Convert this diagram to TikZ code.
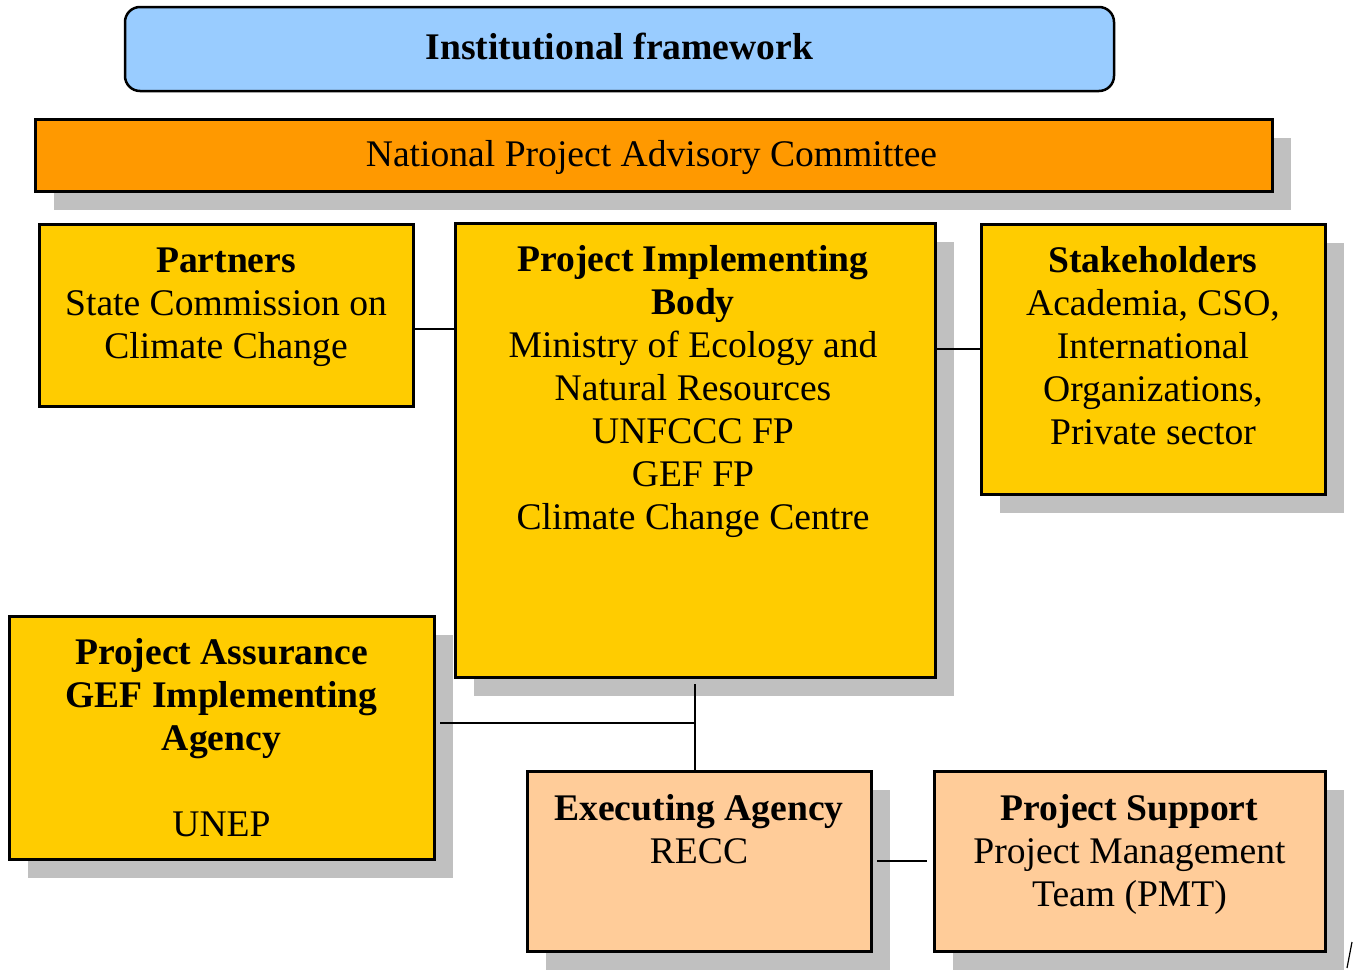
\documentclass[tikz,border=0pt]{standalone}
\usepackage{fontspec}
\setmainfont{Liberation Serif}
\usetikzlibrary{shadows,calc}
\definecolor{titleblue}{HTML}{99CCFF}
\definecolor{npacorange}{HTML}{FF9900}
\definecolor{boxyellow}{HTML}{FFCC00}
\definecolor{boxpeach}{HTML}{FFCC99}
\definecolor{shadowgray}{HTML}{C0C0C0}
\begin{document}
\begin{tikzpicture}[x=1pt,y=-1pt,
  box/.style={draw=black, line width=3pt, inner sep=0pt, outer sep=0pt, anchor=north west},
  shad/.style={drop shadow={shadow xshift=19pt, shadow yshift=-19pt, fill=shadowgray, opacity=1}},
  txt/.style={anchor=north, align=center, inner sep=0pt, font=\fontsize{37.6}{43}\selectfont},
  onetxt/.style={anchor=base, inner sep=0pt, font=\fontsize{37.6}{43}\selectfont},
  conn/.style={draw=black, line width=1.2pt},
  connthick/.style={draw=black, line width=2.4pt},
]
\useasboundingbox (0,0) rectangle (1358,970);
\clip (0,0) rectangle (1358,970);
\fill[white] (0,0) rectangle (1358,970);

% title
\node[box, rounded corners=15pt, fill=titleblue, line width=2.5pt,
      minimum width=989pt, minimum height=84pt] (title) at (125,7) {};
\node[onetxt, font=\fontsize{37.6}{43}\selectfont\bfseries] (title-t) at ([yshift=-10pt]title.center) {Institutional framework};

% national committee
\node[box, shad, fill=npacorange, minimum width=1237pt, minimum height=72pt] (npac) at (35,119) {};
\node[onetxt] (npac-t) at ([xshift=-2pt,yshift=-11pt]npac.center) {National Project Advisory Committee};

% partners
\node[box, fill=boxyellow, minimum width=374pt, minimum height=182pt] (partners) at (39,224) {};
\node[txt] (partners-t) at ([yshift=-18.5pt]partners.north)
  {\strut\textbf{Partners}\\State Commission on\\Climate Change};

% project implementing body
\node[box, shad, fill=boxyellow, minimum width=480pt, minimum height=454pt] (pib) at (455,223) {};
\node[txt] (pib-t) at ([xshift=-2pt,yshift=-18.5pt]pib.north)
  {\strut\textbf{Project Implementing}\\\textbf{Body}\\Ministry of Ecology and\\Natural Resources\\UNFCCC FP\\GEF FP\\Climate Change Centre};

% stakeholders
\node[box, shad, fill=boxyellow, minimum width=344pt, minimum height=270pt] (stake) at (981,224) {};
\node[txt] (stake-t) at ([yshift=-18.5pt]stake.north)
  {\strut\textbf{Stakeholders}\\Academia, CSO,\\International\\Organizations,\\Private sector};

% project assurance
\node[box, shad, fill=boxyellow, minimum width=425pt, minimum height=243pt] (pa) at (9,616) {};
\node[txt] (pa-t) at ([yshift=-18.5pt]pa.north)
  {\strut\textbf{Project Assurance}\\\textbf{GEF Implementing}\\\textbf{Agency}\\\mbox{}\\UNEP};

% executing agency
\node[box, shad, fill=boxpeach, minimum width=344pt, minimum height=180pt] (exec) at (527,771) {};
\node[txt] (exec-t) at ([yshift=-19pt]exec.north)
  {\strut\textbf{Executing Agency}\\RECC};

% project support
\node[box, shad, fill=boxpeach, minimum width=391pt, minimum height=180pt] (support) at (934,771) {};
\node[txt] (support-t) at ([yshift=-19pt]support.north)
  {\strut\textbf{Project Support}\\Project Management\\Team (PMT)};

% connectors
\coordinate (pl) at ([yshift=-14pt]partners.east);
\draw[conn] (pl) -- (pl -| pib.west);
\coordinate (sl) at ([yshift=10pt]stake.west);
\draw[conn] (sl -| pib.east) -- (sl);
\coordinate (pibs) at ([yshift=-7pt]pib.south);
\draw[connthick] (pibs) -- (pibs |- exec.north);
\coordinate (pal) at ([xshift=6pt,yshift=14.5pt]pa.east);
\draw[conn] (pal) -- (pal -| pibs);
\draw[connthick] ([xshift=6pt]exec.east) -- ([xshift=-7pt]support.west);

% small mark at the bottom right
\coordinate (m1) at (1352,942);
\coordinate (m2) at (1347,968);
\draw[conn] (m1) -- (m2);
\end{tikzpicture}
\end{document}
